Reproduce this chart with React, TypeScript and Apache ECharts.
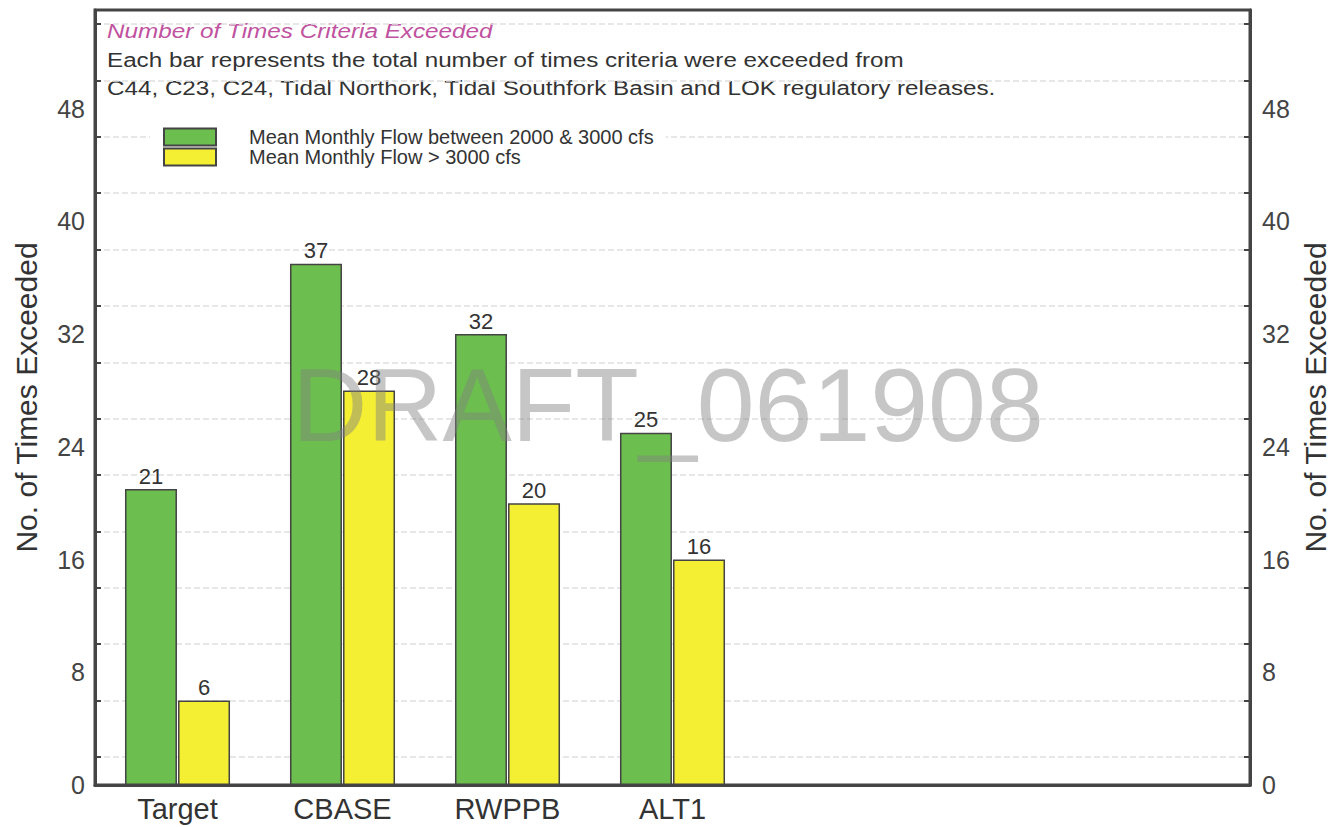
import React, { useEffect, useRef } from "react";
import * as echarts from "echarts";

const categories = ["Target", "CBASE", "RWPPB", "ALT1", "", "", ""];
const flowBetween2000And3000 = [21, 37, 32, 25];
const flowOver3000 = [6, 28, 20, 16];
const yLabelValues = [0, 8, 16, 24, 32, 40, 48];
const yTickValues = [2, 6, 10, 14, 18, 22, 26, 30, 34, 38, 42, 46, 50, 54];
const seriesNames = ["Mean Monthly Flow between 2000 & 3000 cfs", "Mean Monthly Flow > 3000 cfs"];
const titleText = "Number of Times Criteria Exceeded";
const subTextLines = [
  "Each bar represents the total number of times criteria were exceeded from",
  "C44, C23, C24, Tidal Northork, Tidal Southfork Basin and LOK regulatory releases.",
];
const watermark = "DRAFT_061908";
const axisName = "No. of Times Exceeded";

const FONT = "'Liberation Sans', Arial, sans-serif";

export default function App() {
  const ref = useRef<HTMLDivElement>(null);
  useEffect(() => {
    if (!ref.current) return;
    const chart = echarts.init(ref.current, null, { renderer: "svg" });
    const yAxisBase = (pos: "left" | "right") => ({
      type: "value",
      position: pos,
      min: 0,
      max: 55,
      interval: 4,
      name: axisName,
      nameLocation: "middle",
      nameGap: pos === "left" ? 54 : 50,
      nameRotate: 90,
      nameTextStyle: { fontSize: 30, color: "#333", fontFamily: FONT },
      axisLine: { show: true, lineStyle: { color: "#444", width: 3 } },
      axisTick: {
        show: true,
        inside: true,
        length: 6,
        customValues: yTickValues,
        lineStyle: { color: "#444", width: 2 },
      },
      axisLabel: {
        customValues: yLabelValues,
        fontSize: 25,
        color: "#444",
        fontFamily: FONT,
        margin: pos === "left" ? 10 : 12,
      },
      splitLine: {
        show: pos === "left",
        lineStyle: { color: "#e0e0e0", width: 1.5, type: [6, 3] },
      },
    });
    chart.setOption({
      animation: false,
      textStyle: { fontFamily: FONT },
      legend: {
        orient: "vertical",
        left: 150,
        top: 115,
        padding: [12, 12, 8, 13],
        backgroundColor: "#fff",
        itemWidth: 52,
        itemHeight: 17,
        itemGap: 0,
        icon: "rect",
        textStyle: { fontSize: 20, color: "#333", fontFamily: FONT, padding: [0, 0, 0, 28] },
        data: seriesNames,
      },
      grid: {
        left: 95,
        right: 84,
        top: 10,
        bottom: 42,
        show: true,
        borderColor: "#444",
        borderWidth: 3,
        backgroundColor: "transparent",
        containLabel: false,
        outerBoundsMode: "none",
      },
      xAxis: {
        type: "category",
        data: categories,
        axisLine: { show: true, lineStyle: { color: "#444", width: 3 } },
        axisTick: { show: false },
        axisLabel: { fontSize: 29, color: "#333", margin: 9, fontFamily: FONT },
        splitLine: { show: false },
      },
      yAxis: [yAxisBase("left"), yAxisBase("right")],
      series: [
        {
          name: seriesNames[0],
          type: "bar",
          data: flowBetween2000And3000,
          barWidth: 52,
          barGap: "2%",
          itemStyle: { color: "#6cbf4e", borderColor: "#444", borderWidth: 1.5 },
          label: { show: true, position: "top", distance: 2, fontSize: 22, color: "#333", fontFamily: FONT },
        },
        {
          name: seriesNames[1],
          type: "bar",
          data: flowOver3000,
          barWidth: 52,
          barGap: "2%",
          itemStyle: { color: "#f5ef33", borderColor: "#444", borderWidth: 1.5 },
          label: { show: true, position: "top", distance: 2, fontSize: 22, color: "#333", fontFamily: FONT },
        },
      ],
      graphic: [
        {
          type: "text",
          x: 107,
          y: 31,
          scaleX: 1.157,
          silent: true,
          style: {
            text: titleText,
            fontSize: 21,
            fontStyle: "italic",
            fontFamily: FONT,
            fill: "#c0529f",
            align: "left",
            verticalAlign: "middle",
          },
        },
        {
          type: "text",
          x: 107,
          y: 60,
          scaleX: 1.154,
          silent: true,
          style: {
            text: subTextLines[0],
            fontSize: 21,
            fontFamily: FONT,
            fill: "#333",
            align: "left",
            verticalAlign: "middle",
          },
        },
        {
          type: "text",
          x: 107,
          y: 88,
          scaleX: 1.154,
          silent: true,
          style: {
            text: subTextLines[1],
            fontSize: 21,
            fontFamily: FONT,
            fill: "#333",
            align: "left",
            verticalAlign: "middle",
          },
        },
        {
          type: "text",
          z: 3,
          x: 668,
          y: 405,
          silent: true,
          style: {
            text: watermark,
            fontSize: 104,
            fontFamily: FONT,
            fill: "rgba(128,128,128,0.45)",
            align: "center",
            verticalAlign: "middle",
          },
        },
      ],
    });
    return () => chart.dispose();
  }, []);
  return (
    <div
      ref={ref}
      style={{ position: "absolute", left: 0, top: 0, width: 1334, height: 827, background: "#fff" }}
    />
  );
}
